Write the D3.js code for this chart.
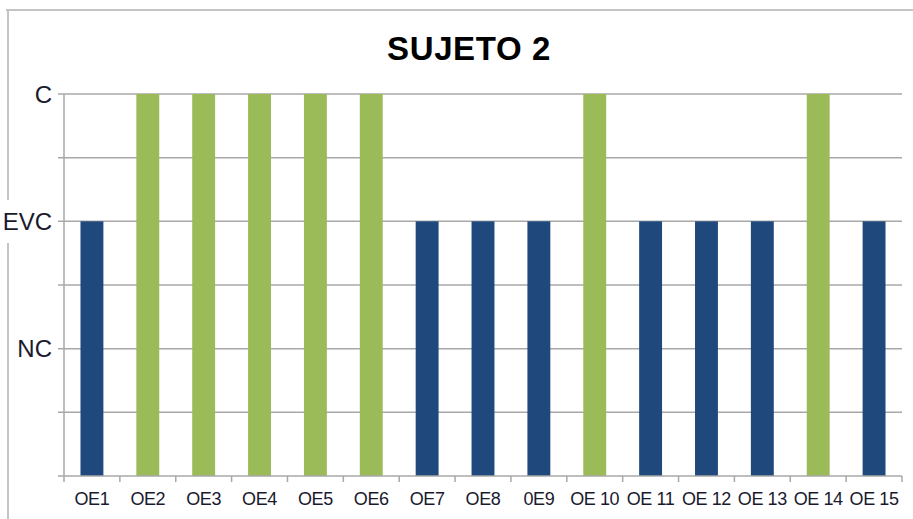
<!DOCTYPE html>
<html>
<head>
<meta charset="utf-8">
<script src="https://cdn.jsdelivr.net/npm/d3@7"></script>
<style>
  body { margin: 0; background: #fff; }
  svg { display: block; }
</style>
</head>
<body>
<svg id="svg" width="913" height="519"></svg>
<script>
// data
var categories = ["OE1", "OE2", "OE3", "OE4", "OE5", "OE6", "OE7", "OE8", "0E9", "OE 10", "OE 11", "OE 12", "OE 13", "OE 14", "OE 15"];
var values = [4, 6, 6, 6, 6, 6, 4, 4, 4, 6, 4, 4, 4, 6, 4];
var levelValues = [2, 4, 6];
var levelLabels = ["NC", "EVC", "C"];

function draw(){
	var svg = d3.select("#svg");
	var W = 913, H = 519;
	var left = 64, right = 902, top = 94, bottom = 476;

	svg.append("rect").attr("width", W).attr("height", H).attr("fill", "#fff");

	// outer frame (top + left)
	svg.append("line").attr("x1", 6).attr("x2", W).attr("y1", 10).attr("y2", 10)
		.attr("stroke", "#c4c4c4").attr("stroke-width", 2);
	svg.append("line").attr("x1", 8).attr("x2", 8).attr("y1", 10).attr("y2", H)
		.attr("stroke", "#c4c4c4").attr("stroke-width", 2);

	// scales
	var scaleX = d3.scaleBand().domain(categories).range([left, right])
		.paddingInner(0.59).paddingOuter(0.295);
	var scaleXt = d3.scaleBand().domain(categories).range([left, right]);
	var scaleY = d3.scaleLinear().domain([0, 6]).range([bottom, top]);

	// grid lines + y ticks
	var gGrid = svg.append("g");
	gGrid.selectAll("line")
		.data(d3.range(1, 7))
		.enter().append("line")
		.attr("x1", left - 6).attr("x2", right)
		.attr("y1", function(d) { return scaleY(d); })
		.attr("y2", function(d) { return scaleY(d); })
		.attr("stroke", "#a8a8a8").attr("stroke-width", 1.5);

	// y axis labels (white box masks the frame line)
	var gLab = svg.append("g");
	levelValues.forEach(function(v, i) {
		var t = gLab.append("text")
			.attr("x", 52).attr("y", scaleY(v))
			.attr("dy", "0.36em")
			.attr("text-anchor", "end")
			.attr("font-family", "Liberation Sans, Arial, sans-serif")
			.attr("font-size", 24)
			.attr("fill", "#1a1a2e")
			.text(levelLabels[i]);
		var bb = t.node().getBBox();
		gLab.insert("rect", "text")
			.attr("x", bb.x - 6).attr("y", bb.y - 8)
			.attr("width", bb.width + 8).attr("height", bb.height + 16)
			.attr("fill", "#fff");
	});

	// bars
	svg.selectAll("rect.bar")
		.data(values)
		.enter().append("rect")
		.attr("class", "bar")
		.attr("x", function(d, i) { return scaleX(categories[i]); })
		.attr("y", function(d) { return scaleY(d); })
		.attr("width", scaleX.bandwidth())
		.attr("height", function(d) { return bottom - scaleY(d); })
		.attr("fill", function(d) { return d == 6 ? "#9bbb59" : "#1f497d"; });

	// y axis line
	svg.append("line").attr("x1", left).attr("x2", left).attr("y1", top).attr("y2", bottom)
		.attr("stroke", "#a8a8a8").attr("stroke-width", 1.5);

	// x axis
	svg.append("line").attr("x1", left - 6).attr("x2", right).attr("y1", bottom).attr("y2", bottom)
		.attr("stroke", "#a8a8a8").attr("stroke-width", 1.5);
	var edges = categories.map(function(c) { return scaleXt(c); }).concat([right]);
	svg.append("g").selectAll("line")
		.data(edges)
		.enter().append("line")
		.attr("x1", function(d) { return d; }).attr("x2", function(d) { return d; })
		.attr("y1", bottom).attr("y2", bottom + 6)
		.attr("stroke", "#a8a8a8").attr("stroke-width", 1.5);

	svg.append("g").selectAll("text")
		.data(categories)
		.enter().append("text")
		.attr("x", function(d) { return scaleXt(d) + scaleXt.bandwidth() / 2; })
		.attr("y", 505)
		.attr("text-anchor", "middle")
		.attr("font-family", "Liberation Sans, Arial, sans-serif")
		.attr("font-size", 18)
		.attr("letter-spacing", -0.4)
		.attr("fill", "#1a1a2e")
		.text(function(d) { return d; });

	// title
	svg.append("text")
		.attr("x", 469).attr("y", 60)
		.attr("text-anchor", "middle")
		.attr("font-family", "Liberation Sans, Arial, sans-serif")
		.attr("font-weight", "bold")
		.attr("font-size", 33)
		.attr("letter-spacing", 0.6)
		.attr("fill", "#000")
		.text("SUJETO 2");
}
draw();
</script>
</body>
</html>
